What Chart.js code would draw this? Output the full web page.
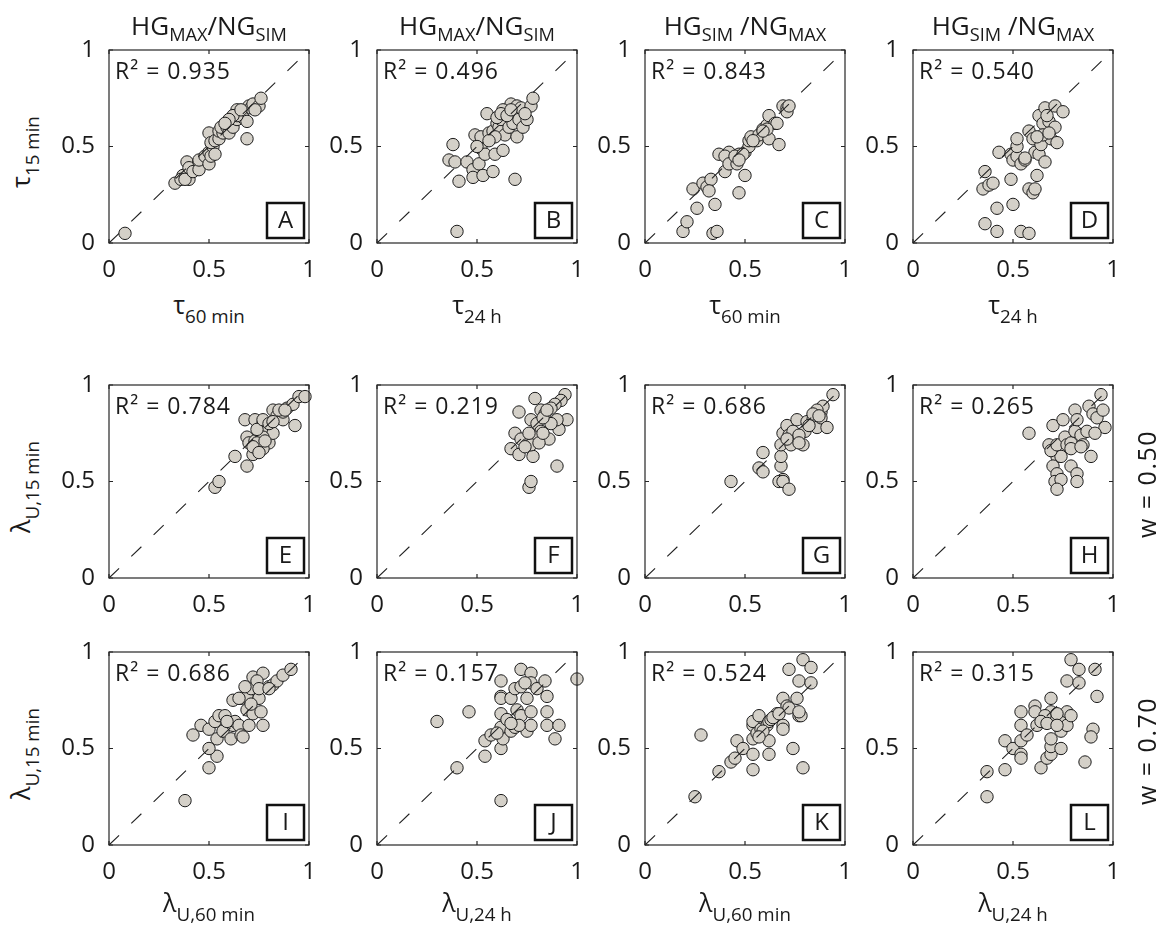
<!DOCTYPE html>
<html>
<head>
<meta charset="utf-8">
<script src="https://cdn.jsdelivr.net/npm/chart.js@4/dist/chart.umd.min.js"></script>
<style>
  body { margin: 0; background: #fff; }
  #fig { position: relative; width: 1162px; height: 929px; overflow: hidden; font-family: "Open Sans", sans-serif; color: #1a1a1a; }
  #fig canvas { position: absolute; }
  .lbl { position: absolute; white-space: nowrap; line-height: 1; }
  .lbl sub { position: relative; vertical-align: baseline; font-size: 0.7em; top: 0.35em; }
  .ax sub { top: 0.5em; font-size: 0.75em; }
  .side { letter-spacing: 1.5px; }
</style>
</head>
<body>
<div id="fig"></div>
<script>
// [x, y] pairs for each panel
const panelA = [[0.08,0.05],[0.33,0.31],[0.37,0.35],[0.40,0.33],[0.36,0.33],[0.38,0.33],[0.39,0.42],[0.40,0.39],[0.42,0.37],[0.45,0.42],[0.45,0.38],[0.45,0.43],[0.48,0.45],[0.50,0.41],[0.50,0.57],[0.50,0.47],[0.51,0.45],[0.52,0.50],[0.53,0.46],[0.51,0.52],[0.53,0.53],[0.55,0.54],[0.55,0.58],[0.57,0.57],[0.56,0.60],[0.59,0.60],[0.60,0.57],[0.60,0.62],[0.62,0.60],[0.64,0.64],[0.64,0.69],[0.65,0.67],[0.67,0.65],[0.69,0.63],[0.69,0.54],[0.70,0.71],[0.71,0.70],[0.72,0.72],[0.75,0.71],[0.76,0.75],[0.73,0.69],[0.64,0.66],[0.62,0.66],[0.66,0.69],[0.60,0.64],[0.58,0.62]];
const panelB = [[0.40,0.06],[0.38,0.51],[0.36,0.43],[0.39,0.42],[0.41,0.32],[0.45,0.42],[0.48,0.38],[0.48,0.34],[0.51,0.41],[0.53,0.35],[0.58,0.37],[0.49,0.56],[0.52,0.49],[0.54,0.46],[0.59,0.46],[0.63,0.48],[0.55,0.67],[0.52,0.55],[0.56,0.57],[0.58,0.58],[0.60,0.62],[0.61,0.60],[0.62,0.64],[0.64,0.56],[0.66,0.60],[0.69,0.33],[0.70,0.55],[0.68,0.62],[0.67,0.72],[0.70,0.71],[0.71,0.64],[0.72,0.70],[0.73,0.60],[0.75,0.64],[0.77,0.71],[0.78,0.75],[0.74,0.67],[0.63,0.69],[0.60,0.65],[0.62,0.67],[0.65,0.66],[0.67,0.69],[0.59,0.55],[0.50,0.50],[0.56,0.53]];
const panelC = [[0.19,0.06],[0.21,0.11],[0.26,0.18],[0.24,0.28],[0.29,0.31],[0.31,0.29],[0.33,0.33],[0.32,0.27],[0.35,0.20],[0.34,0.05],[0.36,0.06],[0.40,0.37],[0.37,0.46],[0.42,0.47],[0.40,0.45],[0.42,0.41],[0.46,0.41],[0.47,0.26],[0.50,0.35],[0.47,0.46],[0.50,0.47],[0.52,0.50],[0.52,0.53],[0.53,0.55],[0.56,0.53],[0.57,0.56],[0.59,0.59],[0.61,0.61],[0.62,0.66],[0.62,0.54],[0.65,0.62],[0.66,0.62],[0.67,0.51],[0.61,0.59],[0.59,0.58],[0.69,0.71],[0.71,0.70],[0.71,0.68],[0.72,0.71],[0.45,0.45],[0.54,0.53],[0.49,0.46],[0.47,0.43]];
const panelD = [[0.36,0.10],[0.42,0.06],[0.42,0.18],[0.50,0.20],[0.54,0.06],[0.58,0.05],[0.35,0.28],[0.38,0.30],[0.40,0.31],[0.36,0.37],[0.49,0.33],[0.58,0.28],[0.60,0.26],[0.61,0.28],[0.62,0.35],[0.43,0.47],[0.49,0.46],[0.50,0.43],[0.52,0.45],[0.54,0.41],[0.56,0.43],[0.52,0.50],[0.52,0.54],[0.58,0.58],[0.60,0.54],[0.61,0.47],[0.63,0.46],[0.64,0.51],[0.66,0.42],[0.63,0.66],[0.66,0.70],[0.65,0.62],[0.68,0.63],[0.71,0.60],[0.69,0.54],[0.72,0.52],[0.71,0.71],[0.75,0.68],[0.67,0.66],[0.65,0.56],[0.62,0.55],[0.68,0.57],[0.56,0.44]];
const panelE = [[0.53,0.47],[0.55,0.50],[0.63,0.63],[0.69,0.58],[0.68,0.82],[0.73,0.82],[0.69,0.73],[0.72,0.64],[0.70,0.70],[0.73,0.71],[0.75,0.68],[0.77,0.80],[0.76,0.75],[0.79,0.78],[0.80,0.70],[0.82,0.75],[0.82,0.87],[0.84,0.84],[0.87,0.82],[0.87,0.86],[0.89,0.88],[0.92,0.90],[0.95,0.94],[0.98,0.94],[0.93,0.79],[0.77,0.73],[0.77,0.67],[0.74,0.70],[0.74,0.77],[0.78,0.71],[0.72,0.68],[0.75,0.65],[0.77,0.82],[0.80,0.80],[0.85,0.87],[0.88,0.87],[0.82,0.81]];
const panelF = [[0.76,0.47],[0.77,0.50],[0.90,0.58],[0.79,0.93],[0.71,0.86],[0.67,0.67],[0.69,0.75],[0.71,0.64],[0.72,0.72],[0.75,0.69],[0.78,0.63],[0.77,0.82],[0.82,0.87],[0.86,0.72],[0.91,0.77],[0.95,0.82],[0.94,0.95],[0.92,0.92],[0.89,0.90],[0.87,0.88],[0.84,0.85],[0.90,0.82],[0.80,0.80],[0.82,0.76],[0.79,0.73],[0.77,0.69],[0.74,0.68],[0.81,0.70],[0.83,0.75],[0.87,0.80],[0.83,0.83],[0.76,0.75],[0.85,0.87]];
const panelG = [[0.43,0.50],[0.57,0.57],[0.59,0.55],[0.59,0.65],[0.69,0.51],[0.67,0.50],[0.69,0.50],[0.72,0.46],[0.68,0.58],[0.68,0.63],[0.68,0.69],[0.69,0.75],[0.71,0.79],[0.72,0.74],[0.74,0.76],[0.75,0.71],[0.76,0.82],[0.79,0.69],[0.80,0.76],[0.81,0.81],[0.84,0.82],[0.86,0.78],[0.88,0.86],[0.89,0.89],[0.88,0.83],[0.91,0.78],[0.94,0.95],[0.77,0.74],[0.73,0.69],[0.71,0.72],[0.77,0.70],[0.82,0.79],[0.86,0.87],[0.84,0.85],[0.87,0.84]];
const panelH = [[0.58,0.75],[0.68,0.69],[0.70,0.79],[0.75,0.82],[0.81,0.87],[0.72,0.63],[0.74,0.63],[0.70,0.58],[0.72,0.54],[0.71,0.50],[0.74,0.51],[0.72,0.46],[0.79,0.58],[0.82,0.54],[0.82,0.50],[0.89,0.63],[0.69,0.66],[0.72,0.69],[0.76,0.73],[0.77,0.69],[0.79,0.70],[0.81,0.76],[0.82,0.82],[0.84,0.74],[0.85,0.69],[0.87,0.76],[0.88,0.89],[0.90,0.85],[0.92,0.83],[0.95,0.87],[0.94,0.95],[0.96,0.78],[0.91,0.75],[0.79,0.67],[0.84,0.68]];
const panelI = [[0.38,0.23],[0.50,0.40],[0.54,0.46],[0.50,0.50],[0.42,0.57],[0.46,0.62],[0.50,0.60],[0.54,0.55],[0.53,0.64],[0.55,0.67],[0.58,0.67],[0.57,0.59],[0.61,0.55],[0.62,0.62],[0.63,0.64],[0.65,0.62],[0.66,0.57],[0.67,0.56],[0.70,0.62],[0.62,0.75],[0.66,0.76],[0.69,0.70],[0.69,0.77],[0.71,0.81],[0.72,0.87],[0.72,0.68],[0.77,0.62],[0.76,0.69],[0.75,0.76],[0.77,0.89],[0.80,0.82],[0.82,0.83],[0.84,0.85],[0.87,0.88],[0.91,0.91],[0.74,0.85],[0.71,0.73],[0.75,0.81],[0.80,0.81],[0.68,0.82],[0.65,0.76],[0.59,0.64]];
const panelJ = [[0.30,0.64],[0.46,0.69],[0.40,0.40],[0.62,0.23],[0.54,0.46],[0.54,0.54],[0.57,0.57],[0.62,0.50],[0.63,0.55],[0.62,0.61],[0.62,0.68],[0.62,0.77],[0.62,0.85],[0.62,0.76],[0.67,0.76],[0.67,0.59],[0.69,0.81],[0.70,0.70],[0.69,0.61],[0.72,0.67],[0.72,0.91],[0.72,0.82],[0.75,0.59],[0.75,0.76],[0.77,0.69],[0.77,0.62],[0.77,0.89],[0.77,0.84],[0.80,0.81],[0.84,0.85],[0.85,0.77],[0.85,0.69],[0.85,0.62],[0.89,0.55],[0.91,0.62],[1.00,0.86],[0.65,0.65],[0.71,0.62],[0.74,0.84],[0.67,0.63],[0.60,0.58]];
const panelK = [[0.25,0.25],[0.28,0.57],[0.37,0.38],[0.43,0.43],[0.45,0.45],[0.46,0.54],[0.49,0.50],[0.54,0.39],[0.54,0.47],[0.54,0.55],[0.54,0.62],[0.54,0.64],[0.56,0.58],[0.57,0.67],[0.58,0.60],[0.61,0.62],[0.62,0.64],[0.63,0.65],[0.62,0.54],[0.62,0.47],[0.66,0.68],[0.69,0.62],[0.69,0.60],[0.69,0.76],[0.71,0.72],[0.72,0.71],[0.74,0.50],[0.76,0.76],[0.77,0.85],[0.77,0.67],[0.78,0.67],[0.77,0.69],[0.72,0.91],[0.79,0.96],[0.83,0.92],[0.83,0.84],[0.79,0.40],[0.59,0.59],[0.57,0.56],[0.64,0.66],[0.67,0.68]];
const panelL = [[0.37,0.25],[0.37,0.38],[0.46,0.39],[0.46,0.54],[0.50,0.50],[0.54,0.47],[0.54,0.45],[0.54,0.54],[0.54,0.62],[0.54,0.69],[0.57,0.57],[0.61,0.72],[0.62,0.62],[0.61,0.69],[0.64,0.40],[0.67,0.45],[0.69,0.47],[0.69,0.51],[0.69,0.55],[0.69,0.76],[0.69,0.69],[0.69,0.65],[0.66,0.67],[0.64,0.64],[0.74,0.65],[0.74,0.59],[0.74,0.50],[0.77,0.69],[0.77,0.62],[0.79,0.67],[0.77,0.85],[0.83,0.84],[0.79,0.96],[0.83,0.91],[0.91,0.91],[0.92,0.77],[0.90,0.60],[0.89,0.56],[0.86,0.43],[0.72,0.68],[0.67,0.63],[0.72,0.62]];

const panels = [panelA, panelB, panelC, panelD, panelE, panelF, panelG, panelH, panelI, panelJ, panelK, panelL];
const panelLetters = ["A", "B", "C", "D", "E", "F", "G", "H", "I", "J", "K", "L"];
const r2Values = ["0.935", "0.496", "0.843", "0.540", "0.784", "0.219", "0.686", "0.265", "0.686", "0.157", "0.524", "0.315"];
const tickValues = [0, 0.5, 1];
const diagonal = [[0, 0], [1, 1]];

const colTitles = ["HG<sub>MAX</sub>/NG<sub>SIM</sub>", "HG<sub>MAX</sub>/NG<sub>SIM</sub>", "HG<sub>SIM</sub> /NG<sub>MAX</sub>", "HG<sub>SIM</sub> /NG<sub>MAX</sub>"];
const rowYTitles = ["τ<sub>15 min</sub>", "λ<sub>U,15 min</sub>", "λ<sub>U,15 min</sub>"];
const topXTitles = ["τ<sub>60 min</sub>", "τ<sub>24 h</sub>", "τ<sub>60 min</sub>", "τ<sub>24 h</sub>"];
const bottomXTitles = ["λ<sub>U,60 min</sub>", "λ<sub>U,24 h</sub>", "λ<sub>U,60 min</sub>", "λ<sub>U,24 h</sub>"];
const rowSideTitles = [null, "w = 0.50", "w = 0.70"];

// layout of the 4 x 3 grid of square axes
const BOX_LEFT = [109, 377, 645, 913];
const BOX_TOP = [50, 385, 652];
const BOX_W = 200, BOX_H = 193;
const PAD_L = 60, PAD_T = 12, PAD_R = 10, PAD_B = 40;
const FONT = '"Open Sans", sans-serif';
const INK = "#1a1a1a";

const fig = document.getElementById("fig");

// box, inward ticks, R² note and the panel letter
const panelDecor = {
  id: "panelDecor",
  afterDatasetsDraw(chart, args, opts) {
    const { ctx, chartArea: a, scales: { x, y } } = chart;
    ctx.save();
    ctx.strokeStyle = "#262626";
    ctx.lineWidth = 1.2;
    ctx.strokeRect(a.left, a.top, a.width, a.height);
    ctx.beginPath();
    tickValues.forEach((v) => {
      const px = x.getPixelForValue(v);
      const py = y.getPixelForValue(v);
      ctx.moveTo(px, a.bottom); ctx.lineTo(px, a.bottom - 4);
      ctx.moveTo(px, a.top); ctx.lineTo(px, a.top + 4);
      ctx.moveTo(a.left, py); ctx.lineTo(a.left + 4, py);
      ctx.moveTo(a.right, py); ctx.lineTo(a.right - 4, py);
    });
    ctx.stroke();

    ctx.fillStyle = INK;
    ctx.font = "23px " + FONT;
    ctx.letterSpacing = "1px";
    ctx.textBaseline = "alphabetic";
    ctx.textAlign = "left";
    ctx.fillText("R² = " + opts.r2, a.left + 6, a.top + 29);
    ctx.letterSpacing = "0px";

    const bw = 37, bh = 35;
    const bx = a.right - 5 - bw, by = a.bottom - 5 - bh;
    ctx.fillStyle = "#fff";
    ctx.fillRect(bx, by, bw, bh);
    ctx.lineWidth = 2.5;
    ctx.strokeStyle = "#111";
    ctx.strokeRect(bx, by, bw, bh);
    ctx.fillStyle = INK;
    ctx.font = "24px " + FONT;
    ctx.textAlign = "center";
    ctx.textBaseline = "middle";
    ctx.fillText(opts.letter, bx + bw / 2, by + bh / 2 + 1);
    ctx.restore();
  },
};

function tickLabel(v) {
  return v === 0.5 ? "0.5" : String(v);
}

function makePanel(points, idx) {
  const row = Math.floor(idx / 4), col = idx % 4;
  const w = PAD_L + BOX_W + PAD_R, h = PAD_T + BOX_H + PAD_B;
  const canvas = document.createElement("canvas");
  canvas.width = w; canvas.height = h;
  canvas.style.width = w + "px"; canvas.style.height = h + "px";
  canvas.style.left = BOX_LEFT[col] - PAD_L + "px";
  canvas.style.top = BOX_TOP[row] - PAD_T + "px";
  fig.appendChild(canvas);

  const tickFont = { family: FONT, size: 24 };

  new Chart(canvas, {
    type: "scatter",
    data: {
      datasets: [
        {
          data: diagonal.map(([x, y]) => ({ x, y })),
          showLine: true,
          borderColor: "#222",
          borderWidth: 1.1,
          borderDash: [14, 17],
          pointRadius: 0,
          order: 0,
          clip: false,
        },
        {
          data: points.map(([x, y]) => ({ x, y })),
          pointRadius: 6.2,
          pointBackgroundColor: "#d4d0c8",
          pointBorderColor: "#1c1c1c",
          pointBorderWidth: 1,
          order: 1,
          clip: false,
        },
      ],
    },
    options: {
      responsive: false,
      animation: false,
      events: [],
      layout: { padding: { left: 0, top: PAD_T, right: PAD_R, bottom: 0 } },
      plugins: {
        legend: { display: false },
        tooltip: { enabled: false },
        panelDecor: { r2: r2Values[idx], letter: panelLetters[idx] },
      },
      scales: {
        x: {
          type: "linear",
          min: 0,
          max: 1,
          grid: { display: false, drawTicks: false },
          border: { display: false },
          ticks: { stepSize: 0.5, padding: 13, maxRotation: 0, font: tickFont, color: INK, callback: tickLabel },
          afterFit(s) { s.height = PAD_B; s.paddingLeft = 0; s.paddingRight = 0; },
        },
        y: {
          type: "linear",
          min: 0,
          max: 1,
          grid: { display: false, drawTicks: false },
          border: { display: false },
          ticks: { stepSize: 0.5, padding: 14, font: tickFont, color: INK, callback: tickLabel },
          afterFit(s) { s.width = PAD_L; s.paddingTop = 0; s.paddingBottom = 0; },
        },
      },
    },
    plugins: [panelDecor],
  });
}

// html text with sub/superscripts; (x, y) is the centre of the main line
function addLabel(html, x, y, size, rotated, cls) {
  const el = document.createElement("div");
  el.className = "lbl" + (cls ? " " + cls : "");
  el.innerHTML = html;
  el.style.fontSize = size + "px";
  el.style.left = x + "px";
  el.style.top = y + "px";
  el.style.transform = rotated ? "translate(-50%,-50%) rotate(-90deg)" : "translate(-50%,-50%)";
  fig.appendChild(el);
}

panels.forEach(makePanel);

colTitles.forEach((t, c) => addLabel(t, BOX_LEFT[c] + BOX_W / 2, 25, 26));
topXTitles.forEach((t, c) => addLabel(t, BOX_LEFT[c] + BOX_W / 2, 304, 25, false, "ax"));
bottomXTitles.forEach((t, c) => addLabel(t, BOX_LEFT[c] + BOX_W / 2, 902, 25, false, "ax"));
rowYTitles.forEach((t, r) => addLabel(t, 20, BOX_TOP[r] + BOX_H / 2 + 5, 25, true, "ax"));
rowSideTitles.forEach((t, r) => {
  if (t) addLabel(t, 1146, BOX_TOP[r] + BOX_H / 2 + 2, 25, true, "side");
});
</script>
</body>
</html>
